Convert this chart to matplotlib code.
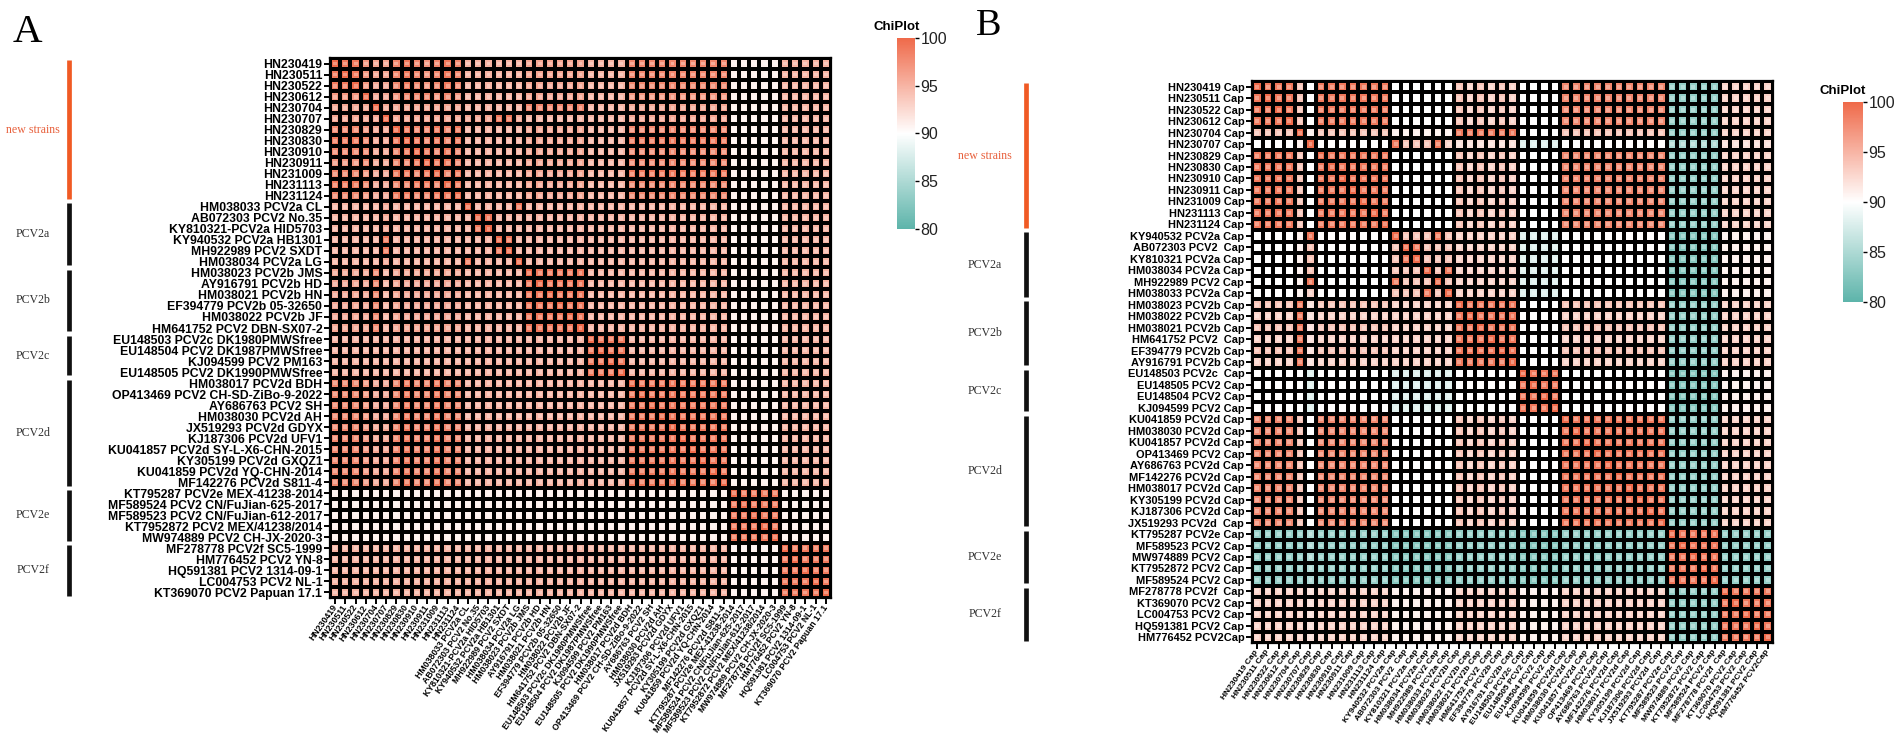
import numpy as np
import matplotlib
matplotlib.use("Agg")
import matplotlib.pyplot as plt
from matplotlib.colors import LinearSegmentedColormap, Normalize, to_rgba
from matplotlib.cm import ScalarMappable

# ---- data -----------------------------------------------------------------
groups = ["new strains", "PCV2a", "PCV2b", "PCV2c", "PCV2d", "PCV2e", "PCV2f"]
group_sizes = [13, 6, 6, 4, 10, 5, 5]

labels_a = [
    "HN230419", "HN230511", "HN230522", "HN230612", "HN230704", "HN230707",
    "HN230829", "HN230830", "HN230910", "HN230911", "HN231009", "HN231113",
    "HN231124",
    "HM038033 PCV2a CL", "AB072303 PCV2 No.35", "KY810321-PCV2a HID5703",
    "KY940532 PCV2a HB1301", "MH922989 PCV2 SXDT", "HM038034 PCV2a LG",
    "HM038023 PCV2b JMS", "AY916791 PCV2b HD", "HM038021 PCV2b HN",
    "EF394779 PCV2b 05-32650", "HM038022 PCV2b JF", "HM641752 PCV2 DBN-SX07-2",
    "EU148503 PCV2c DK1980PMWSfree", "EU148504 PCV2 DK1987PMWSfree",
    "KJ094599 PCV2 PM163", "EU148505 PCV2 DK1990PMWSfree",
    "HM038017 PCV2d BDH", "OP413469 PCV2 CH-SD-ZiBo-9-2022", "AY686763 PCV2 SH",
    "HM038030 PCV2d AH", "JX519293 PCV2d GDYX", "KJ187306 PCV2d UFV1",
    "KU041857 PCV2d SY-L-X6-CHN-2015", "KY305199 PCV2d GXQZ1",
    "KU041859 PCV2d YQ-CHN-2014", "MF142276 PCV2d S811-4",
    "KT795287 PCV2e MEX-41238-2014", "MF589524 PCV2 CN/FuJian-625-2017",
    "MF589523 PCV2 CN/FuJian-612-2017", "KT7952872 PCV2 MEX/41238/2014",
    "MW974889 PCV2 CH-JX-2020-3",
    "MF278778 PCV2f SC5-1999", "HM776452 PCV2 YN-8", "HQ591381 PCV2 1314-09-1",
    "LC004753 PCV2 NL-1", "KT369070 PCV2 Papuan 17.1",
]

labels_b = [
    "HN230419 Cap", "HN230511 Cap", "HN230522 Cap", "HN230612 Cap",
    "HN230704 Cap", "HN230707 Cap", "HN230829 Cap", "HN230830 Cap",
    "HN230910 Cap", "HN230911 Cap", "HN231009 Cap", "HN231113 Cap",
    "HN231124 Cap",
    "KY940532 PCV2a Cap", "AB072303 PCV2  Cap", "KY810321 PCV2a Cap",
    "HM038034 PCV2a Cap", "MH922989 PCV2 Cap", "HM038033 PCV2a Cap",
    "HM038023 PCV2b Cap", "HM038022 PCV2b Cap", "HM038021 PCV2b Cap",
    "HM641752 PCV2  Cap", "EF394779 PCV2b Cap", "AY916791 PCV2b Cap",
    "EU148503 PCV2c  Cap", "EU148505 PCV2 Cap", "EU148504 PCV2 Cap",
    "KJ094599 PCV2 Cap",
    "KU041859 PCV2d Cap", "HM038030 PCV2d Cap", "KU041857 PCV2d Cap",
    "OP413469 PCV2 Cap", "AY686763 PCV2d Cap", "MF142276 PCV2d Cap",
    "HM038017 PCV2d Cap", "KY305199 PCV2d Cap", "KJ187306 PCV2d Cap",
    "JX519293 PCV2d  Cap",
    "KT795287 PCV2e Cap", "MF589523 PCV2 Cap", "MW974889 PCV2 Cap",
    "KT7952872 PCV2 Cap", "MF589524 PCV2 Cap",
    "MF278778 PCV2f  Cap", "KT369070 PCV2 Cap", "LC004753 PCV2 Cap",
    "HQ591381 PCV2 Cap", "HM776452 PCV2Cap",
]

# identity (%) codes
code_values = {"X": 100, "9": 99, "8": 98, "7": 97, "6": 96, "5": 95, "4": 94,
               "3": 93, "2": 92, "1": 91, "0": 90, "a": 89, "b": 88, "c": 87,
               "d": 85, "e": 83.5, "f": 82.5}

# column blocks: HN0-3 | HN230704 | HN230707 | HN6-12 | a | b | c | d | e | f
rows_a = [
    "X997 6 6 8987898 555555 666666 5555 8888888888 11111 55555",
    "9X97 6 6 8987898 555555 666666 5555 8888888888 11111 55555",
    "99X7 6 6 8987898 555555 666666 5555 8888888888 11111 55555",
    "777X 6 6 7888787 555555 666666 5555 7777777777 11111 55555",
    "6666 X 6 6666666 555555 888888 5555 6666666666 11111 55555",
    "6666 6 X 6666666 666996 555555 5555 6666666666 11111 55555",
    "8887 6 6 X988989 555555 666666 5555 8888888888 11111 55555",
    "9998 6 6 9X98989 555555 666666 5555 9999999999 11111 55555",
    "8888 6 6 89X9898 555555 666666 5555 8888888888 11111 55555",
    "7778 6 6 889X998 555555 666666 5555 8888888888 11111 55555",
    "8887 6 6 9989X89 555555 666666 5555 9999999999 11111 55555",
    "9998 6 6 88998X9 555555 666666 5555 8888888888 11111 55555",
    "8887 6 6 998899X 555555 666666 5555 8888888888 11111 55555",
    "5555 5 6 5555555 X55559 555555 5555 5555555555 11111 55555",
    "5555 5 6 5555555 5X9555 555555 5555 5555555555 11111 55555",
    "5555 5 6 5555555 59X555 555555 5555 5555555555 11111 55555",
    "5555 5 9 5555555 555X95 555555 5555 5555555555 11111 55555",
    "5555 5 9 5555555 5559X5 555555 5555 5555555555 11111 55555",
    "5555 5 6 5555555 95555X 555555 5555 5555555555 11111 55555",
    "6666 8 5 6666666 555555 X99999 5555 5555555555 11111 55555",
    "6666 8 5 6666666 555555 9X9999 5555 5555555555 11111 55555",
    "6666 8 5 6666666 555555 99X999 5555 5555555555 11111 55555",
    "6666 8 5 6666666 555555 999X99 5555 5555555555 11111 55555",
    "6666 8 5 6666666 555555 9999X9 5555 5555555555 11111 55555",
    "6666 8 5 6666666 555555 99999X 5555 5555555555 11111 55555",
    "5555 5 5 5555555 555555 555555 X999 5555555555 11111 55555",
    "5555 5 5 5555555 555555 555555 9X99 5555555555 11111 55555",
    "5555 5 5 5555555 555555 555555 99X9 5555555555 11111 55555",
    "5555 5 5 5555555 555555 555555 999X 5555555555 11111 55555",
    "8887 6 6 8988988 555555 555555 5555 X999999999 11111 55555",
    "8887 6 6 8988988 555555 555555 5555 9X99999999 11111 55555",
    "8887 6 6 8988988 555555 555555 5555 99X9999999 11111 55555",
    "8887 6 6 8988988 555555 555555 5555 999X999999 11111 55555",
    "8887 6 6 8988988 555555 555555 5555 9999X99999 11111 55555",
    "8887 6 6 8988988 555555 555555 5555 99999X9999 11111 55555",
    "8887 6 6 8988988 555555 555555 5555 999999X999 11111 55555",
    "8887 6 6 8988988 555555 555555 5555 9999999X99 11111 55555",
    "8887 6 6 8988988 555555 555555 5555 99999999X9 11111 55555",
    "8887 6 6 8988988 555555 555555 5555 999999999X 11111 55555",
    "1111 1 1 1111111 111111 111111 1111 1111111111 X9999 11111",
    "1111 1 1 1111111 111111 111111 1111 1111111111 9X999 11111",
    "1111 1 1 1111111 111111 111111 1111 1111111111 99X99 11111",
    "1111 1 1 1111111 111111 111111 1111 1111111111 999X9 11111",
    "1111 1 1 1111111 111111 111111 1111 1111111111 9999X 11111",
    "5555 5 5 5555555 555555 555555 5555 5555555555 11111 X9999",
    "5555 5 5 5555555 555555 555555 5555 5555555555 11111 9X999",
    "5555 5 5 5555555 555555 555555 5555 5555555555 11111 99X99",
    "5555 5 5 5555555 555555 555555 5555 5555555555 11111 999X9",
    "5555 5 5 5555555 555555 555555 5555 5555555555 11111 9999X",
]

rows_b = [
    "X999 4 0 9999999 000000 434343 0000 8888888888 eeeee 33333",
    "9X99 4 0 9999999 000000 434343 0000 8888888888 eeeee 33333",
    "99X9 4 0 9999999 000000 434343 0000 8888888888 eeeee 33333",
    "999X 4 0 9999999 000000 434343 0000 8888888888 eeeee 33333",
    "4444 X 1 4444444 111111 999999 0000 4444444444 eeeee 33333",
    "0000 1 X 0000000 944493 222222 bbbb 0000000000 ddddd 22222",
    "9999 4 0 X999999 000000 434343 0000 8888888888 eeeee 33333",
    "9999 4 0 9X99999 000000 434343 0000 8888888888 eeeee 33333",
    "9999 4 0 99X9999 000000 434343 0000 8888888888 eeeee 33333",
    "9999 4 0 999X999 000000 434343 0000 8888888888 eeeee 33333",
    "9999 4 0 9999X99 000000 434343 0000 8888888888 eeeee 33333",
    "9999 4 0 99999X9 000000 434343 0000 8888888888 eeeee 33333",
    "9999 4 0 999999X 000000 434343 0000 8888888888 eeeee 33333",
    "0000 1 9 0000000 X44494 333333 bbbb 0000000000 fffff 11111",
    "0000 1 4 0000000 4X9444 333333 bbbb 0000000000 fffff 11111",
    "0000 1 4 0000000 49X444 333333 bbbb 0000000000 fffff 11111",
    "0000 1 4 0000000 444X49 333333 bbbb 0000000000 fffff 11111",
    "0000 1 9 0000000 9444X4 333333 bbbb 0000000000 fffff 11111",
    "0000 1 3 0000000 44494X 333333 bbbb 0000000000 fffff 11111",
    "4444 9 2 4444444 333333 X99999 0000 4444444444 eeeee 33333",
    "3333 9 2 3333333 333333 9X9999 0000 3333333333 eeeee 33333",
    "4444 9 2 4444444 333333 99X999 0000 4444444444 eeeee 33333",
    "3333 9 2 3333333 333333 999X99 0000 3333333333 eeeee 33333",
    "4444 9 2 4444444 333333 9999X9 0000 4444444444 eeeee 33333",
    "3333 9 2 3333333 333333 99999X 0000 3333333333 eeeee 33333",
    "0000 0 b 0000000 bbbbbb 000000 X999 0000000000 fffff 11111",
    "0000 0 b 0000000 bbbbbb 000000 9X99 0000000000 fffff 11111",
    "0000 0 b 0000000 bbbbbb 000000 99X9 0000000000 fffff 11111",
    "0000 0 b 0000000 bbbbbb 000000 999X 0000000000 fffff 11111",
    "8888 4 0 8888888 000000 434343 0000 X999999999 eeeee 33333",
    "8888 4 0 8888888 000000 434343 0000 9X99999999 eeeee 33333",
    "8888 4 0 8888888 000000 434343 0000 99X9999999 eeeee 33333",
    "8888 4 0 8888888 000000 434343 0000 999X999999 eeeee 33333",
    "8888 4 0 8888888 000000 434343 0000 9999X99999 eeeee 33333",
    "8888 4 0 8888888 000000 434343 0000 99999X9999 eeeee 33333",
    "8888 4 0 8888888 000000 434343 0000 999999X999 eeeee 33333",
    "8888 4 0 8888888 000000 434343 0000 9999999X99 eeeee 33333",
    "8888 4 0 8888888 000000 434343 0000 99999999X9 eeeee 33333",
    "8888 4 0 8888888 000000 434343 0000 999999999X eeeee 33333",
    "eeee e d eeeeeee ffffff eeeeee ffff eeeeeeeeee X9999 eeeee",
    "eeee e d eeeeeee ffffff eeeeee ffff eeeeeeeeee 9X999 eeeee",
    "eeee e d eeeeeee ffffff eeeeee ffff eeeeeeeeee 99X99 eeeee",
    "eeee e d eeeeeee ffffff eeeeee ffff eeeeeeeeee 999X9 eeeee",
    "eeee e d eeeeeee ffffff eeeeee ffff eeeeeeeeee 9999X eeeee",
    "3333 3 2 3333333 111111 333333 1111 3333333333 eeeee X9999",
    "3333 3 2 3333333 111111 333333 1111 3333333333 eeeee 9X999",
    "3333 3 2 3333333 111111 333333 1111 3333333333 eeeee 99X99",
    "3333 3 2 3333333 111111 333333 1111 3333333333 eeeee 999X9",
    "3333 3 2 3333333 111111 333333 1111 3333333333 eeeee 9999X",
]

cbar_ticks = [80, 85, 90, 95, 100]


def decode(rows):
    return np.array([[code_values[ch] for ch in r.replace(" ", "")] for r in rows],
                    dtype=float)


mat_a = decode(rows_a)
mat_b = decode(rows_b)

# ---- style ----------------------------------------------------------------
SANS = ["Liberation Sans", "DejaVu Sans"]
SERIF = ["Liberation Serif", "DejaVu Serif"]
W, H = 1902, 751

cmap = LinearSegmentedColormap.from_list(
    "chiplot", [(0.0, "#5DB4AA"), (0.5, "#FFFFFF"), (1.0, "#EF6A4A")])
norm = Normalize(80, 100)

fig = plt.figure(figsize=(W / 100, H / 100), dpi=100)


def px_axes(x0, y0, x1, y1):
    return fig.add_axes([x0 / W, 1 - y1 / H, (x1 - x0) / W, (y1 - y0) / H])


def heatmap(ax, M, labels, ysize, xsize):
    n = M.shape[0]
    ax.pcolormesh(np.arange(n + 1), np.arange(n + 1), M, cmap=cmap, norm=norm,
                  edgecolors="black", linewidth=1.6)
    yy, xx = np.mgrid[0:n, 0:n]
    light = []
    for v in M.ravel():
        r, g, b, _ = to_rgba(cmap(norm(v)))
        light.append((r + (1 - r) * 0.3, g + (1 - g) * 0.3, b + (1 - b) * 0.3))
    ax.scatter(xx.ravel() + 0.5, yy.ravel() + 0.5, c=light, marker="s", s=8,
               linewidths=0, zorder=3)
    ax.set_xlim(0, n)
    ax.set_ylim(n, 0)
    ax.set_xticks(np.arange(n) + 0.5)
    ax.set_xticklabels(labels, rotation=55, ha="right", va="center",
                       rotation_mode="anchor", fontsize=xsize,
                       fontweight="bold", family=SANS)
    ax.set_yticks(np.arange(n) + 0.5)
    ax.set_yticklabels(labels, fontsize=ysize, fontweight="bold", family=SANS)
    ax.tick_params(length=4, width=1.4, pad=1.5, color="black")
    for s in ax.spines.values():
        s.set_linewidth(1.6)


def group_bars(ax, bar_x, text_x):
    start = 0
    for name, size in zip(groups, group_sizes):
        end = start + size
        col = "#F05A24" if name == "new strains" else "#111111"
        tcol = "#E8603C" if name == "new strains" else "#333333"
        ax.vlines(bar_x, start + 0.2, end - 0.2, colors=col, lw=3.4)
        ax.text(text_x, (start + end) / 2, name, ha="center", va="center",
                fontsize=8.6, color=tcol, family=SERIF)
        start = end
    ax.set_ylim(sum(group_sizes), 0)
    ax.axis("off")


def colorbar(x0, y0, x1, y1):
    cax = px_axes(x0, y0, x1, y1)
    cb = fig.colorbar(ScalarMappable(norm=norm, cmap=cmap), cax=cax,
                      ticks=cbar_ticks)
    cb.outline.set_visible(False)
    cax.tick_params(length=3, width=1, labelsize=11.5, pad=1,
                    labelcolor="#222222")
    for t in cax.get_yticklabels():
        t.set_family(SANS)
    fig.text(x0 / W, 1 - (y0 - 8) / H, "ChiPlot", ha="center", va="baseline",
             fontsize=9.5, fontweight="bold", family=SANS)


# panel A
ax_a = px_axes(330, 58, 831, 598)
heatmap(ax_a, mat_a, labels_a, 8.8, 6.3)
ann_a = px_axes(0, 58, 325, 598)
ann_a.set_xlim(0, 325)
group_bars(ann_a, 69, 33)
colorbar(897, 38, 915, 229)
fig.text(13 / W, 1 - 42 / H, "A", fontsize=29.5, family=SERIF, va="baseline")

# panel B
ax_b = px_axes(1252, 81, 1773, 643)
heatmap(ax_b, mat_b, labels_b, 7.9, 6.0)
ann_b = px_axes(950, 81, 1248, 643)
ann_b.set_xlim(950, 1248)
group_bars(ann_b, 1026, 985)
colorbar(1843, 102, 1863, 302)
fig.text(976 / W, 1 - 35 / H, "B", fontsize=27.5, family=SERIF, va="baseline")

fig.savefig("out.png", dpi=100)
